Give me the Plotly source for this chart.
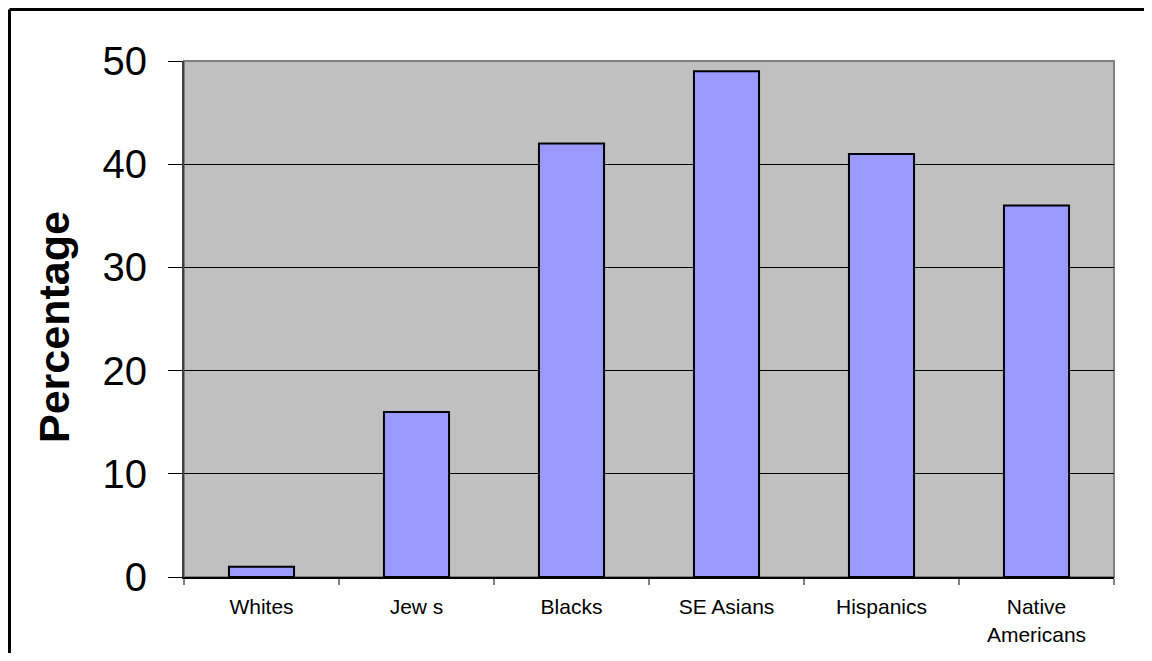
import plotly.graph_objects as go

categories = ["Whites", "Jew s", "Blacks", "SE Asians", "Hispanics", "Native<br>Americans"]
values = [1, 16, 42, 49, 41, 36]
y_ticks = [0, 10, 20, 30, 40, 50]

# page has an 8px body margin; size the figure to fit the window without scrolling
W, H = 1136, 645
L, R, T, B = 176, 30, 53, 76
pw, ph = W - L - R, H - T - B

FONT = "Arial, Liberation Sans, sans-serif"

fig = go.Figure(go.Bar(
    x=categories, y=values,
    marker=dict(color="#9999FF", line=dict(color="black", width=2)),
    width=0.42,
))

fig.update_layout(
    width=W, height=H,
    margin=dict(l=L, r=R, t=T, b=B, autoexpand=False),
    paper_bgcolor="white",
    plot_bgcolor="#C0C0C0",
    showlegend=False,
    font=dict(family=FONT, color="black"),
    bargap=0.58,
)

fig.update_yaxes(
    range=[0, 50], tickvals=y_ticks,
    showgrid=True, gridcolor="black", gridwidth=1,
    ticks="outside", ticklen=14, tickcolor="black", tickwidth=1,
    tickfont=dict(size=40, family=FONT),
    ticklabelstandoff=13,
    showline=True, linecolor="#404040", linewidth=2,
    zeroline=False,
)
fig.update_xaxes(
    type="category",
    ticks="outside", tickson="boundaries", ticklen=6, tickcolor="#808080", tickwidth=2,
    tickfont=dict(size=21, family=FONT),
    ticklabelstandoff=10,
    showline=True, linecolor="black", linewidth=2,
    showgrid=False,
)

# plot-area border (top/right in gray)
fig.add_shape(type="rect", xref="paper", yref="paper", x0=0, x1=1, y0=0, y1=1,
              line=dict(color="#808080", width=2), fillcolor="rgba(0,0,0,0)", layer="below")

# outer chart border (left and top edges visible)
fig.add_shape(type="line", xref="paper", yref="paper",
              x0=(1.5 - L) / pw, x1=(1.5 - L) / pw,
              y0=-(B + 20) / ph, y1=1 + (T - 1.5) / ph,
              line=dict(color="black", width=3))
fig.add_shape(type="line", xref="paper", yref="paper",
              x0=(1.5 - L) / pw, x1=(W + 20 - L) / pw,
              y0=1 + (T - 1.5) / ph, y1=1 + (T - 1.5) / ph,
              line=dict(color="black", width=3))

fig.add_annotation(
    text="<b>Percentage</b>", textangle=-90,
    xref="paper", yref="paper",
    x=(46 - L) / pw, y=(T + ph - 319) / ph,
    xanchor="center", yanchor="middle", showarrow=False,
    font=dict(size=43, family=FONT, color="black"),
)

fig.write_html("out.html")
